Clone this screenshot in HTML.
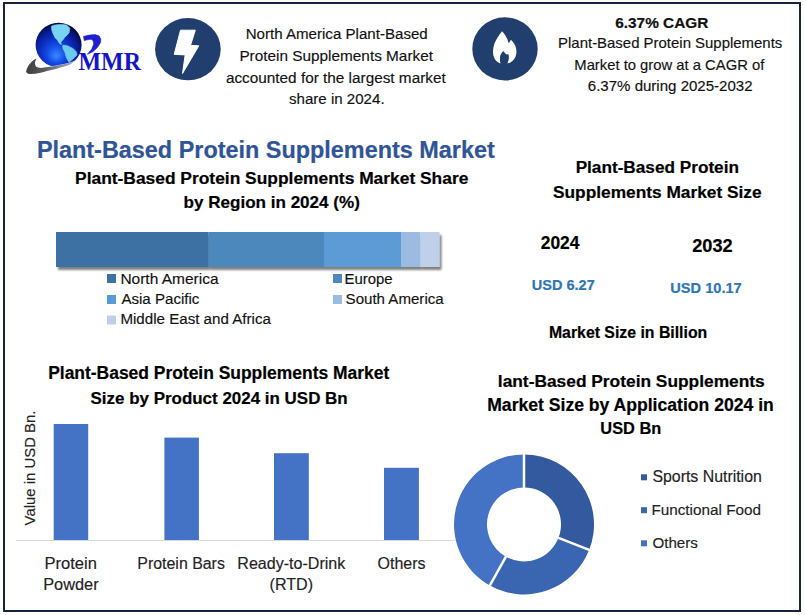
<!DOCTYPE html>
<html><head><meta charset="utf-8"><style>
html,body{margin:0;padding:0;background:#fff;}
body{width:806px;height:615px;position:relative;overflow:hidden;font-family:"Liberation Sans", sans-serif;}
.t{position:absolute;white-space:nowrap;-webkit-text-stroke:0.15px currentColor;}
.b{-webkit-text-stroke:0.2px currentColor;}
</style></head><body>
<svg width="806" height="615" viewBox="0 0 806 615" style="position:absolute;left:0;top:0">
<defs>
 <radialGradient id="gl" cx="0.45" cy="0.62" r="0.6" fx="0.45" fy="0.75">
  <stop offset="0" stop-color="#3a88ff"/><stop offset="0.35" stop-color="#1248e6"/><stop offset="0.7" stop-color="#0a22a8"/><stop offset="0.9" stop-color="#061270"/><stop offset="1" stop-color="#030838"/></radialGradient>
 <linearGradient id="sw" x1="26" y1="0" x2="78" y2="0" gradientUnits="userSpaceOnUse">
  <stop offset="0" stop-color="#3e3e3e"/><stop offset="0.35" stop-color="#5a5a5a"/><stop offset="0.7" stop-color="#8a8fa0"/><stop offset="1" stop-color="#a8b0c8"/></linearGradient>
 <filter id="sh" x="-5%" y="-20%" width="110%" height="160%"><feGaussianBlur in="SourceAlpha" stdDeviation="1.1"/><feOffset dx="1.5" dy="2.6"/><feComponentTransfer><feFuncA type="linear" slope="0.5"/></feComponentTransfer><feMerge><feMergeNode/><feMergeNode in="SourceGraphic"/></feMerge></filter>
</defs>
<rect x="4" y="3" width="796" height="608" fill="none" stroke="#172440" stroke-width="2"/>
<!-- logo -->
<ellipse cx="58.6" cy="45" rx="23" ry="22.3" fill="url(#gl)"/>
<path d="M51.5,26.1 L54,25.2 L58.4,24.5 L62,24.4 L66.5,24.9 L69.8,28.1 L69.5,30.5 L69,33 L66.1,36.3 L64.5,37.5 L63.3,39.5 L61.8,41 L60.8,42.8 L61.6,44.4 L60.3,44 L59.2,43.2 L57.6,40.3 L55.1,37.9 L53.1,33.8 L52.2,31.5 L51.5,28.9 Z" stroke="#78d4f2" stroke-width="0.6" stroke-linejoin="round" fill="#78d4f2"/>
<path d="M62.5,45.2 L65.5,45.3 L68.1,46 L73,48.5 L76.3,51.7 L77.1,55 L75,57 L73,59 L69,62.3 L66.5,58.2 L64.9,52.5 L62.9,48.5 Z" stroke="#6ccaf0" stroke-width="0.6" stroke-linejoin="round" fill="#6ccaf0"/>
<path d="M26.1,71.6 C26.5,73.3 27.5,73.9 30,74 C36,74.2 42,72.5 48,70.8 C52,69.8 55.5,68.9 59.2,67.9 C65,66.2 70,64.2 77.1,60 C72,62.5 68,63.6 63,64.6 C58,65.6 53,66.6 48,67.1 C45,67.5 43,67.9 41.4,67.9 C38.5,67.8 36.8,67.2 36.1,66.4 C34.8,65 34.5,62.5 36.5,58.6 C33.5,60 31.5,61.5 30.9,62.7 C28.5,65 26.8,68 26.1,71.6 Z" fill="url(#sw)" stroke="#fff" stroke-width="0.7" paint-order="stroke"/>
<path d="M83.4,36.5 L87.8,35.3 L91.5,34.7 L95.1,34.6 L99,35.8 L100.9,39 L100.6,42.6 L97.5,47.5 L92.6,51.9 L87.3,54.3 L91.7,49 L93.6,44.1 L93.2,40.9 L91.7,39.6 L89.5,39.4 L86.3,40.1 L84.3,40.7 Z" fill="#1f1fd0" stroke="#1f1fd0" stroke-width="0.5" stroke-linejoin="round"/>
<text x="78.5" y="70.2" font-family="Liberation Serif" font-weight="bold" font-size="24.5" fill="#1414c8" textLength="62.5" lengthAdjust="spacingAndGlyphs">MMR</text>
<!-- icon circles -->
<ellipse cx="187.9" cy="49.2" rx="32.8" ry="31.1" fill="#213f6e"/>
<path d="M180.5,30.2 L195.3,30.2 L190.5,45.3 L198.8,45.8 L182.5,73.5 L185.2,54.9 L174.2,54.4 Z" fill="#fff" stroke="#fff" stroke-width="1" stroke-linejoin="round"/>
<ellipse cx="505" cy="48.9" rx="32.7" ry="31.6" fill="#213f6e"/>
<path d="M502,31.2 C499,35 496,39.5 494.5,43.5 C493.2,47 492.8,51 493.2,54.5 C493.8,58.8 496.8,62.3 500.6,63.6 C499.9,61.5 499.7,58.5 500.2,56 C500.8,53.8 502,52.3 503.3,51 C504.2,52.3 505.1,53.5 506.2,54.5 C506.9,54.2 507.7,54 508.5,54.4 C509.2,56.8 509,60.2 507.3,63.6 C510.8,62.8 514,60.2 515.6,56.5 C516.9,53 516.7,49 515.2,45.6 C514.1,43.4 512.7,41.4 510.9,39.8 C510.4,41 509.6,42.1 508.6,42.9 C507.6,38.8 505.2,34.2 502,31.2 Z" fill="#fff"/>
<!-- region bar -->
<g filter="url(#sh)">
<rect x="56" y="232" width="152.7" height="35" fill="#3e71a4"/>
<rect x="208.7" y="232" width="115.3" height="35" fill="#4e88bd"/>
<rect x="324" y="232" width="77" height="35" fill="#5b9bd5"/>
<rect x="401" y="232" width="19.2" height="35" fill="#9bbbe1"/>
<rect x="420.2" y="232" width="19.3" height="35" fill="#bed0ea"/>
</g>
<rect x="107" y="274" width="9" height="9" fill="#3e71a4"/>
<rect x="107" y="295" width="9" height="9" fill="#5b9bd5"/>
<rect x="107" y="315.5" width="9" height="9" fill="#bed0ea"/>
<rect x="333" y="274" width="9" height="9" fill="#4e88bd"/>
<rect x="333" y="295" width="9" height="9" fill="#9bbbe1"/>
<!-- bar chart -->
<line x1="16" y1="540.5" x2="455" y2="540.5" stroke="#d9d9d9" stroke-width="1"/>
<rect x="53.7" y="424" width="34.5" height="116" fill="#4472c4"/>
<rect x="164.4" y="437.6" width="34.5" height="102.4" fill="#4472c4"/>
<rect x="274" y="453.2" width="34.8" height="86.8" fill="#4472c4"/>
<rect x="384" y="467.8" width="34.9" height="72.2" fill="#4472c4"/>
<!-- donut -->
<path d="M524.00,454.40 A70,70 0 0 1 589.22,549.83 L558.47,537.84 A37,37 0 0 0 524.00,487.40 Z" fill="#335a9e"/><path d="M589.22,549.83 A70,70 0 0 1 489.85,585.50 L505.95,556.70 A37,37 0 0 0 558.47,537.84 Z" fill="#3a65b0"/><path d="M489.85,585.50 A70,70 0 0 1 524.00,454.40 L524.00,487.40 A37,37 0 0 0 505.95,556.70 Z" fill="#4472c4"/><line x1="524.00" y1="489.40" x2="524.00" y2="452.40" stroke="#fff" stroke-width="2.5"/><line x1="556.61" y1="537.11" x2="591.08" y2="550.55" stroke="#fff" stroke-width="2.5"/><line x1="506.92" y1="554.95" x2="488.87" y2="587.25" stroke="#fff" stroke-width="2.5"/>
<rect x="641" y="474.3" width="6" height="6" fill="#335a9e"/>
<rect x="641" y="507.2" width="6" height="6" fill="#3a65b0"/>
<rect x="641" y="540.3" width="6" height="6" fill="#4472c4"/>
</svg>
<div class="t" id="tc1" style="left:-13.30px;width:700px;text-align:center;top:21.81px;font-size:15.10px;line-height:24px;color:#111;">North America Plant-Based</div>
<div class="t" id="tc2" style="left:-13.80px;width:700px;text-align:center;top:43.81px;font-size:15.35px;line-height:24px;color:#111;">Protein Supplements Market</div>
<div class="t" id="tc3" style="left:-14.20px;width:700px;text-align:center;top:65.51px;font-size:15.34px;line-height:24px;color:#111;">accounted for the largest market</div>
<div class="t" id="tc4" style="left:-13.20px;width:700px;text-align:center;top:87.01px;font-size:15.08px;line-height:24px;color:#111;">share in 2024.</div>
<div class="t b" id="tr1" style="left:311.80px;width:700px;text-align:center;top:10.91px;font-size:15.38px;line-height:24px;font-weight:bold;color:#111;">6.37% CAGR</div>
<div class="t" id="tr2" style="left:320.20px;width:700px;text-align:center;top:31.21px;font-size:14.95px;line-height:24px;color:#111;">Plant-Based Protein Supplements</div>
<div class="t" id="tr3" style="left:319.30px;width:700px;text-align:center;top:52.90px;font-size:14.81px;line-height:24px;color:#111;">Market to grow at a CAGR of</div>
<div class="t" id="tr4" style="left:320.20px;width:700px;text-align:center;top:74.40px;font-size:15.05px;line-height:24px;color:#111;">6.37% during 2025-2032</div>
<div class="t b" id="title" style="left:-84.20px;width:700px;text-align:center;top:137.50px;font-size:23.42px;line-height:24px;font-weight:bold;color:#2f5597;">Plant-Based Protein Supplements Market</div>
<div class="t b" id="sub1" style="left:-78.30px;width:700px;text-align:center;top:166.31px;font-size:17.40px;line-height:24px;font-weight:bold;color:#000;">Plant-Based Protein Supplements Market Share</div>
<div class="t b" id="sub2" style="left:-78.30px;width:700px;text-align:center;top:190.51px;font-size:17.07px;line-height:24px;font-weight:bold;color:#000;">by Region in 2024 (%)</div>
<div class="t" id="NA" style="left:120.40px;top:266.81px;font-size:15.50px;line-height:24px;color:#111;">North America</div>
<div class="t" id="AP" style="left:121.40px;top:286.71px;font-size:15.10px;line-height:24px;color:#111;">Asia Pacific</div>
<div class="t" id="MEA" style="left:120.40px;top:307.31px;font-size:15.13px;line-height:24px;color:#111;">Middle East and Africa</div>
<div class="t" id="Eur" style="left:344.60px;top:266.81px;font-size:14.91px;line-height:24px;color:#111;">Europe</div>
<div class="t" id="SA" style="left:345.60px;top:286.71px;font-size:15.09px;line-height:24px;color:#111;">South America</div>
<div class="t b" id="rt1" style="left:307.30px;width:700px;text-align:center;top:155.21px;font-size:17.20px;line-height:24px;font-weight:bold;color:#000;">Plant-Based Protein</div>
<div class="t b" id="rt2" style="left:307.30px;width:700px;text-align:center;top:180.21px;font-size:17.31px;line-height:24px;font-weight:bold;color:#000;">Supplements Market Size</div>
<div class="t b" id="y24" style="left:210.10px;width:700px;text-align:center;top:231.22px;font-size:17.45px;line-height:24px;font-weight:bold;color:#000;">2024</div>
<div class="t b" id="y32" style="left:362.40px;width:700px;text-align:center;top:234.41px;font-size:18.22px;line-height:24px;font-weight:bold;color:#000;">2032</div>
<div class="t b" id="usd1" style="left:213.30px;width:700px;text-align:center;top:272.81px;font-size:14.51px;line-height:24px;font-weight:bold;color:#2e75b6;">USD 6.27</div>
<div class="t b" id="usd2" style="left:356.00px;width:700px;text-align:center;top:275.70px;font-size:14.58px;line-height:24px;font-weight:bold;color:#2e75b6;">USD 10.17</div>
<div class="t b" id="msb" style="left:278.10px;width:700px;text-align:center;top:320.81px;font-size:15.83px;line-height:24px;font-weight:bold;color:#000;">Market Size in Billion</div>
<div class="t b" id="bl1" style="left:-131.30px;width:700px;text-align:center;top:361.31px;font-size:17.44px;line-height:24px;font-weight:bold;color:#000;">Plant-Based Protein Supplements Market</div>
<div class="t b" id="bl2" style="left:-130.90px;width:700px;text-align:center;top:386.61px;font-size:16.97px;line-height:24px;font-weight:bold;color:#000;">Size by Product 2024 in USD Bn</div>
<div class="t" id="cat1" style="left:-279.30px;width:700px;text-align:center;top:552.20px;font-size:16.54px;line-height:24px;color:#222;">Protein</div>
<div class="t" id="cat1b" style="left:-279.10px;width:700px;text-align:center;top:572.40px;font-size:16.37px;line-height:24px;color:#222;">Powder</div>
<div class="t" id="cat2" style="left:-168.90px;width:700px;text-align:center;top:552.20px;font-size:15.92px;line-height:24px;color:#222;">Protein Bars</div>
<div class="t" id="cat3" style="left:-58.70px;width:700px;text-align:center;top:551.20px;font-size:16.07px;line-height:24px;color:#222;">Ready-to-Drink</div>
<div class="t" id="cat3b" style="left:-58.70px;width:700px;text-align:center;top:572.40px;font-size:16.07px;line-height:24px;color:#222;">(RTD)</div>
<div class="t" id="cat4" style="left:51.50px;width:700px;text-align:center;top:552.20px;font-size:15.97px;line-height:24px;color:#222;">Others</div>
<div class="t b" id="d1" style="left:281.30px;width:700px;text-align:center;top:368.90px;font-size:17.35px;line-height:24px;font-weight:bold;color:#000;">lant-Based Protein Supplements</div>
<div class="t b" id="d2" style="left:280.50px;width:700px;text-align:center;top:393.20px;font-size:17.58px;line-height:24px;font-weight:bold;color:#000;">Market Size by Application 2024 in</div>
<div class="t b" id="d3" style="left:280.80px;width:700px;text-align:center;top:416.20px;font-size:16.37px;line-height:24px;font-weight:bold;color:#000;">USD Bn</div>
<div class="t" id="SN" style="left:652.40px;top:464.82px;font-size:15.88px;line-height:24px;color:#222;">Sports Nutrition</div>
<div class="t" id="FF" style="left:651.40px;top:497.51px;font-size:15.29px;line-height:24px;color:#222;">Functional Food</div>
<div class="t" id="Od" style="left:652.40px;top:530.71px;font-size:15.17px;line-height:24px;color:#222;">Others</div>
<div class="t" id="ylab" style="left:-70.50px;top:459.20px;width:200px;text-align:center;font-size:14.90px;line-height:18px;color:#222;transform:rotate(-90deg);transform-origin:100px 9px;">Value in USD Bn.</div>
</body></html>
